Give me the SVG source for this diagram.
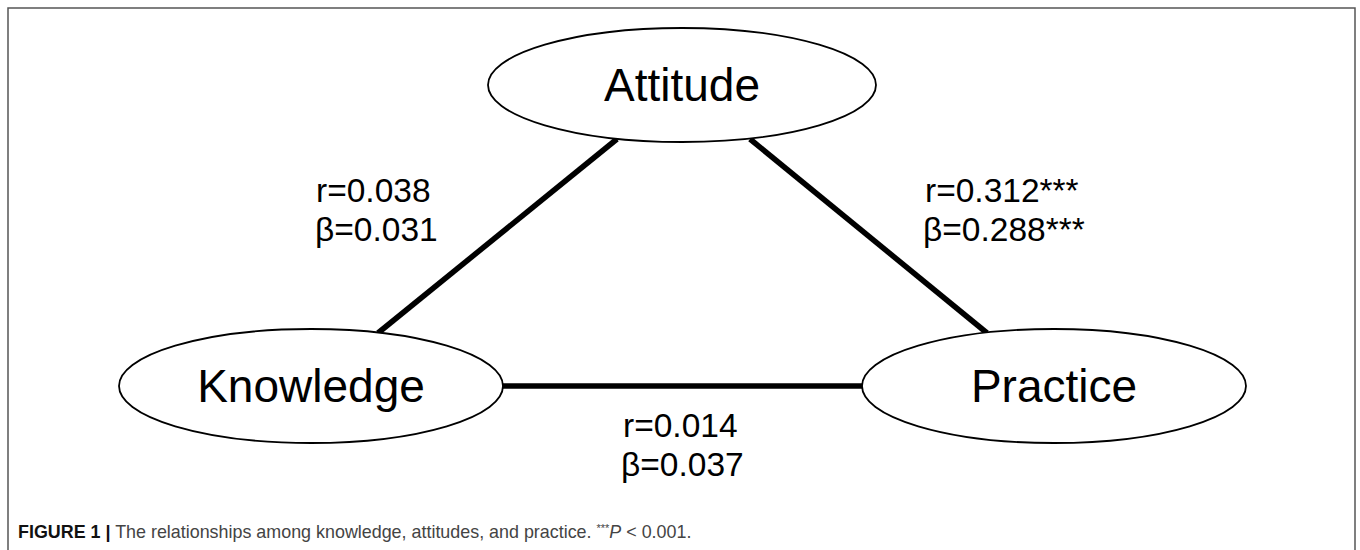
<svg xmlns="http://www.w3.org/2000/svg" width="1360" height="550" viewBox="0 0 1360 550">
<style>
.node ellipse{fill:#fff;stroke:#000;stroke-width:1.8}
.node text{font-family:"Liberation Sans",Arial,sans-serif;font-size:46px;fill:#000;text-anchor:middle}
.edge line{stroke:#000;stroke-width:5.5;stroke-linecap:butt}
.lbl{font-family:"Liberation Sans",Arial,sans-serif;font-size:33.5px;fill:#000}
.cap{font-family:"Liberation Sans",Arial,sans-serif;font-size:17.9px;fill:#444}
</style>
<rect width="1360" height="550" fill="#fff"/>
<path d="M8 550 V8 H1355 V550" fill="none" stroke="#555" stroke-width="1.5"/>
<g id="connectors" class="edge">
<line x1="378" y1="333" x2="617" y2="139"/>
<line x1="750" y1="139" x2="987" y2="333"/>
<line x1="503" y1="386" x2="862" y2="386"/>
</g>
<g id="attitude" class="node">
<ellipse cx="682" cy="85" rx="194" ry="57"/>
<text x="682" y="101">Attitude</text>
</g>
<g id="knowledge" class="node">
<ellipse cx="311" cy="386" rx="192" ry="57"/>
<text x="311" y="402">Knowledge</text>
</g>
<g id="practice" class="node">
<ellipse cx="1054" cy="386" rx="192" ry="57"/>
<text x="1054" y="402">Practice</text>
</g>
<g id="labels">
<text class="lbl" x="316" y="202">r=0.038</text>
<text class="lbl" x="315" y="241">β=0.031</text>
<text class="lbl" x="925" y="202">r=0.312***</text>
<text class="lbl" x="923" y="241">β=0.288***</text>
<text class="lbl" x="623" y="437">r=0.014</text>
<text class="lbl" x="621" y="476">β=0.037</text>
</g>
<text class="cap" x="18" y="538"><tspan font-weight="bold" fill="#111">FIGURE 1 |</tspan> The relationships among knowledge, attitudes, and practice. <tspan font-size="11" dy="-6">***</tspan><tspan font-style="italic" dy="6">P</tspan> &lt; 0.001.</text>
</svg>
